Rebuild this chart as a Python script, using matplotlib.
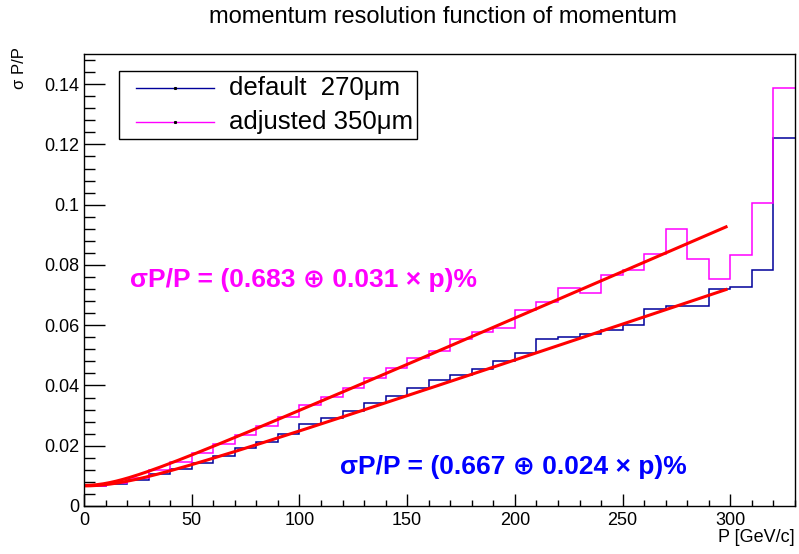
import numpy as np
import matplotlib
matplotlib.use("Agg")
import matplotlib.pyplot as plt
from matplotlib.lines import Line2D
from matplotlib.patches import Rectangle
from matplotlib.ticker import MultipleLocator, FuncFormatter

plt.rcParams['font.family'] = ['Liberation Sans', 'DejaVu Sans']

# ---- data ----
bin_edges = np.arange(0, 331, 10)
default_vals = [0.0065, 0.0072, 0.0086, 0.0106, 0.0123, 0.0144, 0.0167, 0.0191,
                0.0213, 0.0238, 0.0271, 0.0292, 0.0316, 0.0341, 0.0365, 0.0390,
                0.0418, 0.0436, 0.0454, 0.0482, 0.0509, 0.0553, 0.0560, 0.0572,
                0.0583, 0.0602, 0.0653, 0.0665, 0.0663, 0.0719, 0.0728, 0.0784,
                0.1222]
adjusted_vals = [0.0066, 0.0075, 0.0092, 0.0119, 0.0147, 0.0175, 0.0205, 0.0236,
                 0.0265, 0.0296, 0.0335, 0.0363, 0.0393, 0.0426, 0.0459, 0.0490,
                 0.0513, 0.0553, 0.0576, 0.0592, 0.0650, 0.0678, 0.0722, 0.0708,
                 0.0765, 0.0783, 0.0835, 0.0918, 0.0820, 0.0752, 0.0833, 0.1006,
                 0.1388]
# fit parameters (percent): sqrt(a^2 + (b*p)^2)
fit_default = (0.667, 0.024)
fit_adjusted = (0.683, 0.031)
fit_range = (0, 298)

labels = ["default  270\u03bcm", "adjusted 350\u03bcm"]
title = "momentum resolution function of momentum"
xlabel = "P [GeV/c]"
ylabel = "\u03c3 P/P"
text_adjusted = "\u03c3P/P = (0.683 \u2295 0.031 \u00d7 p)%"
text_default = "\u03c3P/P = (0.667 \u2295 0.024 \u00d7 p)%"

c_default = '#00009a'
c_adjusted = '#ff00ff'

W, H = 799, 554
fig = plt.figure(figsize=(W / 100, H / 100), dpi=100)
L, R, T, B = 84, 795, 54, 506
ax = fig.add_axes([L / W, 1 - B / H, (R - L) / W, (B - T) / H])


def fx(px):
    return px / W


def fy(py):
    return 1 - py / H


ax.stairs(default_vals, bin_edges, baseline=None, color=c_default, lw=1.1)
ax.stairs(adjusted_vals, bin_edges, baseline=None, color=c_adjusted, lw=1.1)

p = np.linspace(fit_range[0], fit_range[1], 200)
for a, b in (fit_default, fit_adjusted):
    ax.plot(p, np.sqrt(a ** 2 + (b * p) ** 2) / 100.0, color='#ff0000', lw=2.2)

ax.set_xlim(0, 330)
ax.set_ylim(0, 0.15)

ax.xaxis.set_major_locator(MultipleLocator(50))
ax.xaxis.set_minor_locator(MultipleLocator(10))
ax.yaxis.set_major_locator(MultipleLocator(0.02))
ax.yaxis.set_minor_locator(MultipleLocator(0.004))
ax.yaxis.set_major_formatter(FuncFormatter(lambda v, pos: '%g' % round(v, 4)))
ax.xaxis.set_major_formatter(FuncFormatter(lambda v, pos: '%g' % v))

ax.tick_params(axis='both', which='both', direction='in', top=False, right=False,
               labelsize=13, width=1.0)
ax.tick_params(axis='y', which='major', length=15, pad=3.5)
ax.tick_params(axis='y', which='minor', length=8)
ax.tick_params(axis='x', which='major', length=9, pad=4)
ax.tick_params(axis='x', which='minor', length=4)
for s in ax.spines.values():
    s.set_linewidth(1.0)

fig.text(fx(443), fy(17), title, ha='center', va='center', fontsize=17)
fig.text(fx(795), fy(537), xlabel, ha='right', va='center', fontsize=13)
fig.text(fx(20), fy(47), ylabel, ha='center', va='top', rotation=90, fontsize=12)

ax.text(21.5, 0.075, text_adjusted, color=c_adjusted,
        fontsize=19, fontweight='bold', ha='left', va='center')
ax.text(119, 0.0129, text_default, color='#0000ff',
        fontsize=19, fontweight='bold', ha='left', va='center')

# legend drawn in figure pixel coordinates
fig.add_artist(Rectangle((fx(119), fy(139)), fx(417) - fx(119), fy(71) - fy(139),
                         transform=fig.transFigure, facecolor='white',
                         edgecolor='black', lw=1.0, zorder=5))
for i, (lab, col) in enumerate(zip(labels, [c_default, c_adjusted])):
    yy = fy(88 + 34 * i)
    fig.add_artist(Line2D([fx(136), fx(214)], [yy, yy], color=col, lw=1.0,
                          transform=fig.transFigure, zorder=6))
    fig.add_artist(Line2D([fx(175)], [yy], marker='s', markersize=1.2, color='k',
                          transform=fig.transFigure, zorder=7))
    fig.text(fx(229), yy, lab, ha='left', va='center', fontsize=18.5, zorder=7)

fig.savefig("out.png", dpi=100)
